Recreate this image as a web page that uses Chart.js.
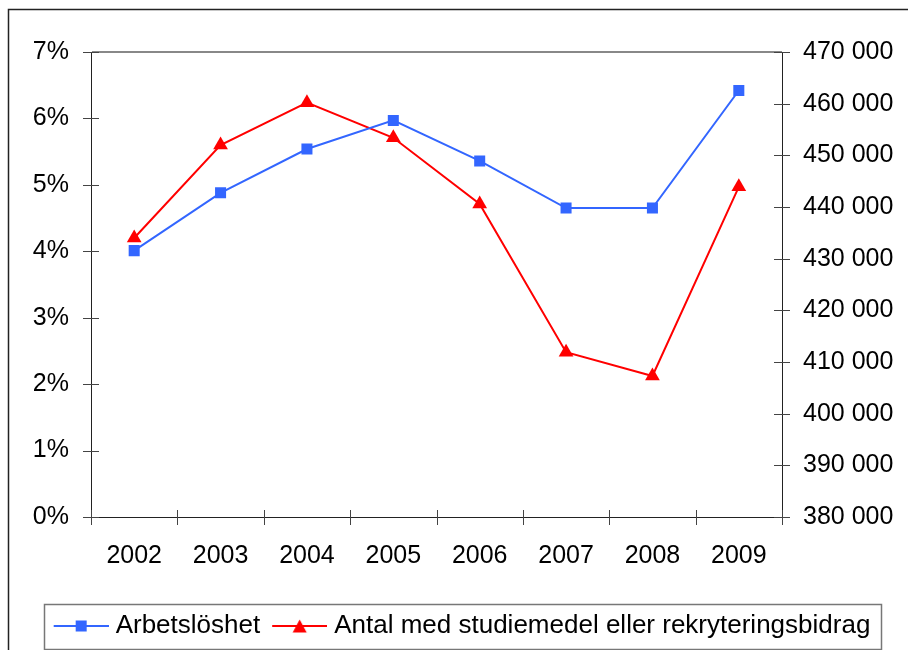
<!DOCTYPE html>
<html lang="sv">
<head>
<meta charset="UTF-8">
<title>Arbetslöshet och studiemedel</title>
<script src="https://cdn.jsdelivr.net/npm/chart.js"></script>
<style>
    html, body { margin: 0; padding: 0; background: #fff; }
    canvas { display: block; }
</style>
</head>
<body>
<canvas id="chart" width="908" height="650"></canvas>
<script>
    // Data
    const years = ["2002", "2003", "2004", "2005", "2006", "2007", "2008", "2009"];
    const arbetsloshet = [4.01, 4.88, 5.54, 5.97, 5.36, 4.65, 4.65, 6.42];            // procent
    const antalStudiemedel = [434000, 452000, 460200, 453400, 440600, 411900, 407300, 443900];

    const BLUE = "rgb(51, 102, 255)";
    const RED = "rgb(255, 0, 0)";
    const FONT = { family: "'Liberation Sans', Arial, sans-serif", size: 25 };
    const LEGEND_FONT = { family: "'Liberation Sans', Arial, sans-serif", size: 26 };

    function spaced(v) {
        return String(v).replace(/\B(?=(\d{3})+(?!\d))/g, " ");
    }

    // legend symbol: line with the marker in the middle
    function legendSymbol(color, shape) {
        const c = document.createElement("canvas");
        c.width = 63;
        c.height = 16;
        const g = c.getContext("2d");
        g.strokeStyle = color;
        g.lineWidth = 2;
        g.beginPath();
        g.moveTo(8, 8);
        g.lineTo(63, 8);
        g.stroke();
        g.fillStyle = color;
        const cx = 35.5;
        if (shape === "rect") {
            g.fillRect(cx - 5.5, 2.5, 11, 11);
        } else {
            g.beginPath();
            g.moveTo(cx, 1.5);
            g.lineTo(cx + 7, 14.5);
            g.lineTo(cx - 7, 14.5);
            g.closePath();
            g.fill();
        }
        return c;
    }
    const symbols = [legendSymbol(BLUE, "rect"), legendSymbol(RED, "triangle")];

    const framePlugin = {
        id: "frame",
        beforeDraw(chart) {
            const ctx = chart.ctx;
            ctx.save();
            ctx.fillStyle = "#fff";
            ctx.fillRect(0, 0, chart.width, chart.height);
            ctx.restore();
        },
        afterDraw(chart) {
            const ctx = chart.ctx;
            const area = chart.chartArea;
            const y = chart.scales.y, y1 = chart.scales.y1, x = chart.scales.x;
            ctx.save();

            // outer frame (cut off at right and bottom)
            ctx.strokeStyle = "#222";
            ctx.lineWidth = 1.5;
            ctx.strokeRect(8.5, 9.5, 1200, 1200);

            // tick marks crossing the axes
            ctx.strokeStyle = "#444";
            ctx.lineWidth = 1;
            ctx.beginPath();
            y.ticks.forEach((t, i) => {
                const p = Math.round(y.getPixelForTick(i)) + 0.5;
                ctx.moveTo(area.left - 8, p);
                ctx.lineTo(area.left + 8, p);
            });
            y1.ticks.forEach((t, i) => {
                const p = Math.round(y1.getPixelForTick(i)) + 0.5;
                ctx.moveTo(area.right - 8, p);
                ctx.lineTo(area.right + 8, p);
            });
            for (let i = 0; i <= years.length; i++) {
                const p = Math.round(x.getPixelForValue(i - 0.5)) + 0.5;
                ctx.moveTo(p, area.bottom - 7);
                ctx.lineTo(p, area.bottom + 8);
            }
            ctx.stroke();

            // box round the legend
            const boxes = chart.legend.legendHitBoxes;
            if (boxes && boxes.length) {
                const l = Math.min(...boxes.map(b => b.left)) - 8;
                const r = Math.max(...boxes.map(b => b.left + b.width)) + 10;
                const mid = boxes[0].top + boxes[0].height / 2;
                ctx.strokeStyle = "#777";
                ctx.lineWidth = 1.5;
                ctx.strokeRect(Math.round(l) + 0.5, Math.round(mid - 22) + 0.5, Math.round(r - l), 45);
            }
            ctx.restore();
        }
    };

    Chart.defaults.font = FONT;
    Chart.defaults.color = "#000";

    new Chart(document.getElementById("chart"), {
        type: "line",
        data: {
            labels: years,
            datasets: [
                {
                    label: "Arbetslöshet",
                    data: arbetsloshet,
                    yAxisID: "y",
                    borderColor: BLUE,
                    backgroundColor: BLUE,
                    borderWidth: 2,
                    pointStyle: "rect",
                    pointRadius: 7.8,
                    pointBorderWidth: 0,
                    tension: 0
                },
                {
                    label: "Antal med studiemedel eller rekryteringsbidrag",
                    data: antalStudiemedel,
                    yAxisID: "y1",
                    borderColor: RED,
                    backgroundColor: RED,
                    borderWidth: 2,
                    pointStyle: "triangle",
                    pointRadius: 8.5,
                    pointBorderWidth: 0,
                    tension: 0
                }
            ]
        },
        options: {
            responsive: false,
            animation: false,
            layout: {
                padding: { top: 52, left: 14, right: 0, bottom: 2 }
            },
            scales: {
                x: {
                    offset: true,
                    grid: { display: false, drawTicks: false },
                    border: { color: "#222", width: 1 },
                    ticks: { padding: 24, font: FONT, maxRotation: 0 },
                    afterFit(scale) { scale.height = 86; }
                },
                y: {
                    position: "left",
                    min: 0,
                    max: 7,
                    ticks: {
                        stepSize: 1,
                        padding: 22,
                        font: FONT,
                        callback: v => v + "%"
                    },
                    grid: {
                        drawTicks: false,
                        color: c => (c.tick && c.tick.value === 7 ? "#888" : "rgba(0,0,0,0)"),
                        lineWidth: 2
                    },
                    border: { color: "#222", width: 1 },
                    afterFit(scale) { scale.width = 77; }
                },
                y1: {
                    position: "right",
                    min: 380000,
                    max: 470000,
                    ticks: {
                        stepSize: 10000,
                        padding: 21,
                        font: FONT,
                        callback: v => spaced(v)
                    },
                    grid: { display: false, drawTicks: false },
                    border: { color: "#222", width: 1 },
                    afterFit(scale) { scale.width = 126; }
                }
            },
            plugins: {
                tooltip: { enabled: false },
                legend: {
                    position: "bottom",
                    maxHeight: 45,
                    labels: {
                        usePointStyle: true,
                        pointStyleWidth: 51,
                        boxHeight: 16,
                        padding: 10,
                        font: LEGEND_FONT,
                        color: "#000",
                        generateLabels(chart) {
                            const items = Chart.defaults.plugins.legend.labels.generateLabels(chart);
                            items.forEach((it, i) => { it.pointStyle = symbols[i]; });
                            return items;
                        }
                    }
                }
            }
        },
        plugins: [framePlugin]
    });
</script>
</body>
</html>
